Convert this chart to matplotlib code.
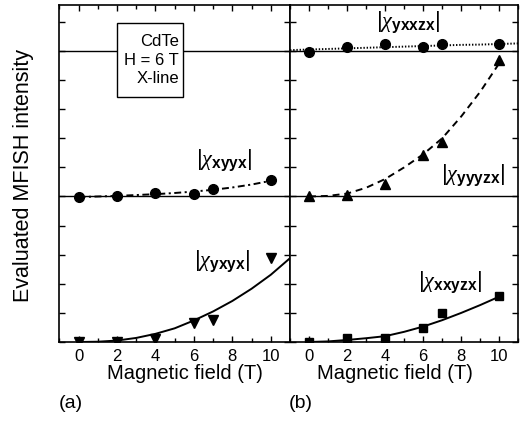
import matplotlib
matplotlib.use("Agg")
import matplotlib.pyplot as plt
from matplotlib.ticker import MultipleLocator
from matplotlib.patches import Rectangle

plt.rcParams['font.family'] = ['Liberation Sans', 'DejaVu Sans']
plt.rcParams['mathtext.fontset'] = 'custom'
plt.rcParams['mathtext.rm'] = 'Liberation Sans'
plt.rcParams['mathtext.it'] = 'Liberation Serif:italic'
plt.rcParams['mathtext.bf'] = 'Liberation Sans:bold'
plt.rcParams['lines.scale_dashes'] = False

# measured points (field in T)
field = [0, 2, 4, 6, 7, 10]
xyyx = [4.97, 5.03, 5.13, 5.08, 5.25, 5.57]
yxyx = [0.01, 0.01, 0.09, 0.64, 0.76, 2.89]
yxxzx = [9.98, 10.12, 10.24, 10.13, 10.24, 10.23]
yyyzx = [5.0, 5.05, 5.43, 6.43, 6.87, 9.7]
xxyzx = [0.0, 0.13, 0.13, 0.47, 0.99, 1.58]

# fitted curves
fit_x = [0, 1, 2, 3, 4, 5, 6, 7, 8, 9, 10]
fit_x11 = [0, 1, 2, 3, 4, 5, 6, 7, 8, 9, 10, 11]
fit_xfull = [-1, 0, 1, 2, 3, 4, 5, 6, 7, 8, 9, 10, 11]
xyyx_fit = [4.98, 5.0, 5.02, 5.05, 5.08, 5.12, 5.17, 5.23, 5.31, 5.41, 5.54]
yxyx_fit = [0, 0.01, 0.05, 0.14, 0.28, 0.47, 0.74, 1.05, 1.41, 1.83, 2.31, 2.88]
yxxzx_fit = [10.03, 10.05, 10.07, 10.09, 10.11, 10.13, 10.15, 10.17, 10.19, 10.21, 10.22, 10.24, 10.26]
yyyzx_fit = [5.0, 5.02, 5.1, 5.3, 5.6, 6.0, 6.45, 7.0, 7.75, 8.6, 9.58]
xxyzx_fit = [0, 0.02, 0.07, 0.13, 0.2, 0.35, 0.53, 0.75, 1.0, 1.27, 1.56]

W, H = 523, 422
fig = plt.figure(figsize=(W / 100, H / 100), dpi=100)
axa = fig.add_axes([59.3 / W, 1 - 342 / H, (290 - 59.3) / W, 337 / H])
axb = fig.add_axes([290 / W, 1 - 342 / H, (518.3 - 290) / W, 337 / H])

ms = 7
for ax in (axa, axb):
    ax.set_xlim(-1, 11)
    ax.set_ylim(0, 11.58)
    ax.axhline(5, color='black', lw=1.0, zorder=1)
    ax.axhline(10, color='black', lw=1.0, zorder=1)
    ax.xaxis.set_major_locator(MultipleLocator(2))
    ax.xaxis.set_minor_locator(MultipleLocator(1))
    ax.yaxis.set_major_locator(MultipleLocator(1))
    ax.tick_params(which='both', direction='in', top=True, right=True,
                   width=1, labelsize=12, pad=5)
    ax.tick_params(which='major', length=4)
    ax.tick_params(which='minor', length=3)
    ax.set_yticklabels([])
    for s in ax.spines.values():
        s.set_linewidth(1.2)

# panel (a)
axa.plot(fit_x, xyyx_fit, color='black', lw=1.4, ls=(0, (5, 2.5, 1.5, 2.5)))
axa.plot(field, xyyx, 'o', color='black', ms=ms)
axa.plot(fit_x11, yxyx_fit, color='black', lw=1.4)
axa.plot(field, yxyx, 'v', color='black', ms=ms)
axa.text(7.6, 6.25, r'$|\chi_{\mathbf{xyyx}}|$', fontsize=16, ha='center', va='center')
axa.text(7.5, 2.78, r'$|\chi_{\mathbf{yxyx}}|$', fontsize=16, ha='center', va='center')
axa.add_patch(Rectangle((2.0, 8.42), 3.44, 2.54, fc='white', ec='black', lw=1, zorder=4))
axa.text(3.8, 9.69, 'CdTe\nH = 6 T\nX-line', fontsize=12, ha='center', va='center',
         multialignment='right', linespacing=1.3, zorder=5)

# panel (b)
axb.plot(fit_xfull, yxxzx_fit, color='black', lw=1.4, ls=(0, (1, 1.3)))
axb.plot(field, yxxzx, 'o', color='black', ms=ms)
axb.plot(fit_x, yyyzx_fit, color='black', lw=1.4, ls=(0, (5, 3.5)))
axb.plot(field, yyyzx, '^', color='black', ms=ms)
axb.plot(fit_x, xxyzx_fit, color='black', lw=1.4)
axb.plot(field, xxyzx, 's', color='black', ms=6)
axb.text(5.2, 11.0, r'$|\chi_{\mathbf{yxxzx}}|$', fontsize=16, ha='center', va='center')
axb.text(8.6, 5.74, r'$|\chi_{\mathbf{yyyzx}}|$', fontsize=16, ha='center', va='center')
axb.text(7.4, 2.06, r'$|\chi_{\mathbf{xxyzx}}|$', fontsize=16, ha='center', va='center')

fig.text(185 / W, 1 - 379 / H, 'Magnetic field (T)', fontsize=14.5, ha='center', va='baseline')
fig.text(395 / W, 1 - 379 / H, 'Magnetic field (T)', fontsize=14.5, ha='center', va='baseline')
fig.text(24 / W, 1 - 176 / H, 'Evaluated MFISH intensity', fontsize=15.5, rotation=90,
         ha='center', va='center')
fig.text(71 / W, 1 - 408 / H, '(a)', fontsize=14, ha='center', va='baseline')
fig.text(301 / W, 1 - 408 / H, '(b)', fontsize=14, ha='center', va='baseline')

fig.savefig('out.png', dpi=100)
